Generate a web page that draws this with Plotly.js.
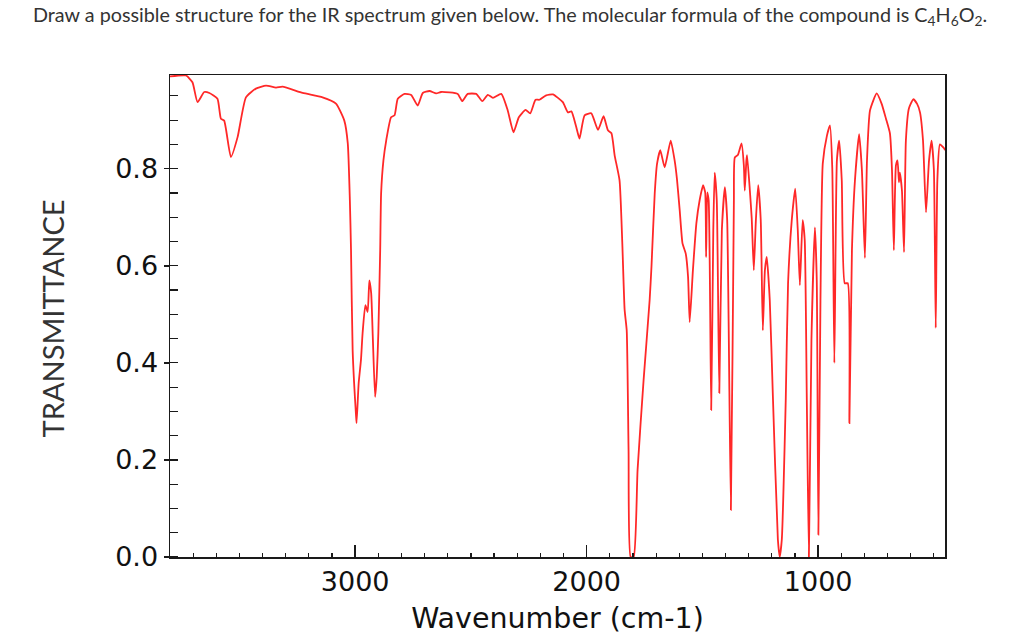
<!DOCTYPE html>
<html><head><meta charset="utf-8">
<script src="https://cdn.plot.ly/plotly-3.0.1.min.js"></script>
<style>html,body{margin:0;padding:0;background:#fff;}#chart{width:1024px;height:636px;}</style>
</head><body><div id="chart"></div>
<script>
const wavenumber = [
3800,3731,3703,3681,3652,3630,3595,3580,3566,3537,3508,3472,3429,3385,3342,3314,3227,3141,3083,3047,3032,3023,3018,3011,2996,2994,2985,2975,2968,2956,2946,2939,2931,2924,2914,2907,2900,2892,2888,2878,2866,2845,2830,2816,2787,2758,2730,2708,2679,2650,2629,2557,2538,2514,2477,2451,2427,2405,2369,2341,2316,2293,2264,2244,2221,2204,2175,2146,2103,2081,2066,2045,2031,2009,1980,1951,1927,1908,1893,1879,1858,1846,1836,1827,1819,1810,1797,1780,1754,1728,1720,1706,1696,1682,1663,1637,1620,1610,1598,1586,1572,1562,1555,1541,1526,1512,1497,1488,1484,1479,1473,1462,1453,1447,1438,1427,1416,1403,1393,1377,1364,1360,1347,1331,1321,1317,1310,1307,1295,1287,1278,1269,1259,1248,1239,1230,1222,1209,1196,1174,1166,1157,1140,1130,1114,1099,1088,1079,1067,1058,1049,1040,1029,1014,1006,999,990,980,962,949,939,930,919,909,898,885,872,865,854,841,823,811,798,789,776,747,726,707,690,681,673,664,657,651,647,638,629,621,608,589,573,560,547,534,521,510,500,492,485,474,456,452
];
const transmittance = [
0.99,0.992,0.978,0.937,0.958,0.956,0.944,0.903,0.899,0.824,0.865,0.947,0.965,0.971,0.967,0.969,0.956,0.947,0.934,0.899,0.852,0.735,0.632,0.426,0.289,0.276,0.358,0.406,0.461,0.519,0.505,0.570,0.544,0.454,0.330,0.371,0.461,0.632,0.749,0.817,0.858,0.906,0.910,0.944,0.954,0.952,0.930,0.956,0.960,0.955,0.958,0.954,0.939,0.954,0.954,0.939,0.952,0.946,0.954,0.920,0.875,0.906,0.921,0.914,0.942,0.942,0.951,0.953,0.937,0.916,0.918,0.886,0.862,0.910,0.914,0.880,0.908,0.879,0.873,0.827,0.776,0.646,0.509,0.467,0.221,0.0,0.0,0.180,0.365,0.529,0.598,0.749,0.810,0.838,0.803,0.858,0.817,0.779,0.714,0.646,0.625,0.577,0.484,0.591,0.688,0.735,0.766,0.751,0.618,0.751,0.735,0.303,0.673,0.792,0.735,0.338,0.673,0.762,0.694,0.097,0.735,0.823,0.828,0.852,0.807,0.755,0.817,0.828,0.755,0.698,0.591,0.694,0.766,0.694,0.467,0.591,0.618,0.529,0.338,0.036,0.0,0.036,0.323,0.564,0.694,0.759,0.673,0.560,0.694,0.653,0.323,0.0,0.447,0.679,0.570,0.046,0.529,0.811,0.868,0.889,0.801,0.400,0.817,0.858,0.776,0.564,0.564,0.276,0.632,0.776,0.871,0.797,0.616,0.817,0.920,0.955,0.934,0.903,0.873,0.797,0.632,0.807,0.817,0.772,0.792,0.755,0.628,0.858,0.924,0.943,0.934,0.916,0.858,0.710,0.817,0.858,0.797,0.472,0.776,0.850,0.842,0.838
];
const xTickVals = [3000, 2000, 1000];
const xTickText = ['3000', '2000', '1000'];
const yTickVals = [0, 0.2, 0.4, 0.6, 0.8];
const yTickText = ['0.0', '0.2', '0.4', '0.6', '0.8'];
const titleText = 'Draw a possible structure for the IR spectrum given below. The molecular formula of the compound is C<sub>4</sub>H<sub>6</sub>O<sub>2</sub>.';
const xTitle = 'Wavenumber (cm-1)';
const yTitle = 'TRANSMITTANCE';

const axisColor = '#1a1a1a';
const tickFont = {family: 'DejaVu Sans', size: 27, color: '#111'};

const trace = {
  x: wavenumber, y: transmittance, type: 'scatter', mode: 'lines',
  line: {color: 'rgb(255,40,40)', width: 1.8, shape: 'spline', smoothing: 0.5},
  hoverinfo: 'skip', showlegend: false
};

const layout = {
  width: 1024, height: 636,
  margin: {l: 170, r: 79, t: 75, b: 79, pad: 0},
  paper_bgcolor: '#fff', plot_bgcolor: '#fff',
  showlegend: false,
  title: {
    text: titleText, x: 33/1024, xanchor: 'left', xref: 'container',
    y: 1 - 8/636, yanchor: 'top', yref: 'container',
    font: {family: 'Lato', size: 19.75, color: '#333'}
  },
  xaxis: {
    range: [3800, 452], autorange: false,
    tickmode: 'array', tickvals: xTickVals, ticktext: xTickText,
    ticks: 'inside', ticklen: 12, tickwidth: 1.5, tickcolor: axisColor,
    showline: true, linecolor: axisColor, linewidth: 1.5, mirror: true,
    showgrid: false, zeroline: false, tickfont: tickFont,
    minor: {dtick: 100, tick0: 0, ticks: 'inside', ticklen: 4, tickwidth: 1.2, tickcolor: axisColor, showgrid: false},
    title: {text: xTitle, font: {family: 'DejaVu Sans', size: 28.5, color: '#111'}, standoff: 12}
  },
  yaxis: {
    range: [0, 0.993], autorange: false,
    tickmode: 'array', tickvals: yTickVals, ticktext: yTickText,
    ticks: 'outside', ticklen: 5, tickwidth: 1.5, tickcolor: axisColor,
    showline: true, linecolor: axisColor, linewidth: 1.5, mirror: true,
    showgrid: false, zeroline: false, tickfont: tickFont,
    minor: {dtick: 0.05, tick0: 0, ticks: 'inside', ticklen: 8, tickwidth: 1.2, tickcolor: axisColor, showgrid: false}
  },
  yaxis2: {
    overlaying: 'y', anchor: 'x', side: 'left',
    range: [0, 0.993], autorange: false,
    tickmode: 'array', tickvals: yTickVals,
    ticks: 'inside', ticklen: 8, tickwidth: 1.5, tickcolor: axisColor,
    showticklabels: false, showline: false, showgrid: false, zeroline: false
  },
  annotations: [{
    text: yTitle, textangle: -90, showarrow: false,
    xref: 'paper', yref: 'paper', x: (52 - 170) / 775, y: 0.495,
    xanchor: 'center', yanchor: 'middle',
    font: {family: 'Lato', size: 29, color: '#333'}
  }]
};

Plotly.newPlot('chart', [trace], layout, {displayModeBar: false, staticPlot: true});
</script>
</body></html>
